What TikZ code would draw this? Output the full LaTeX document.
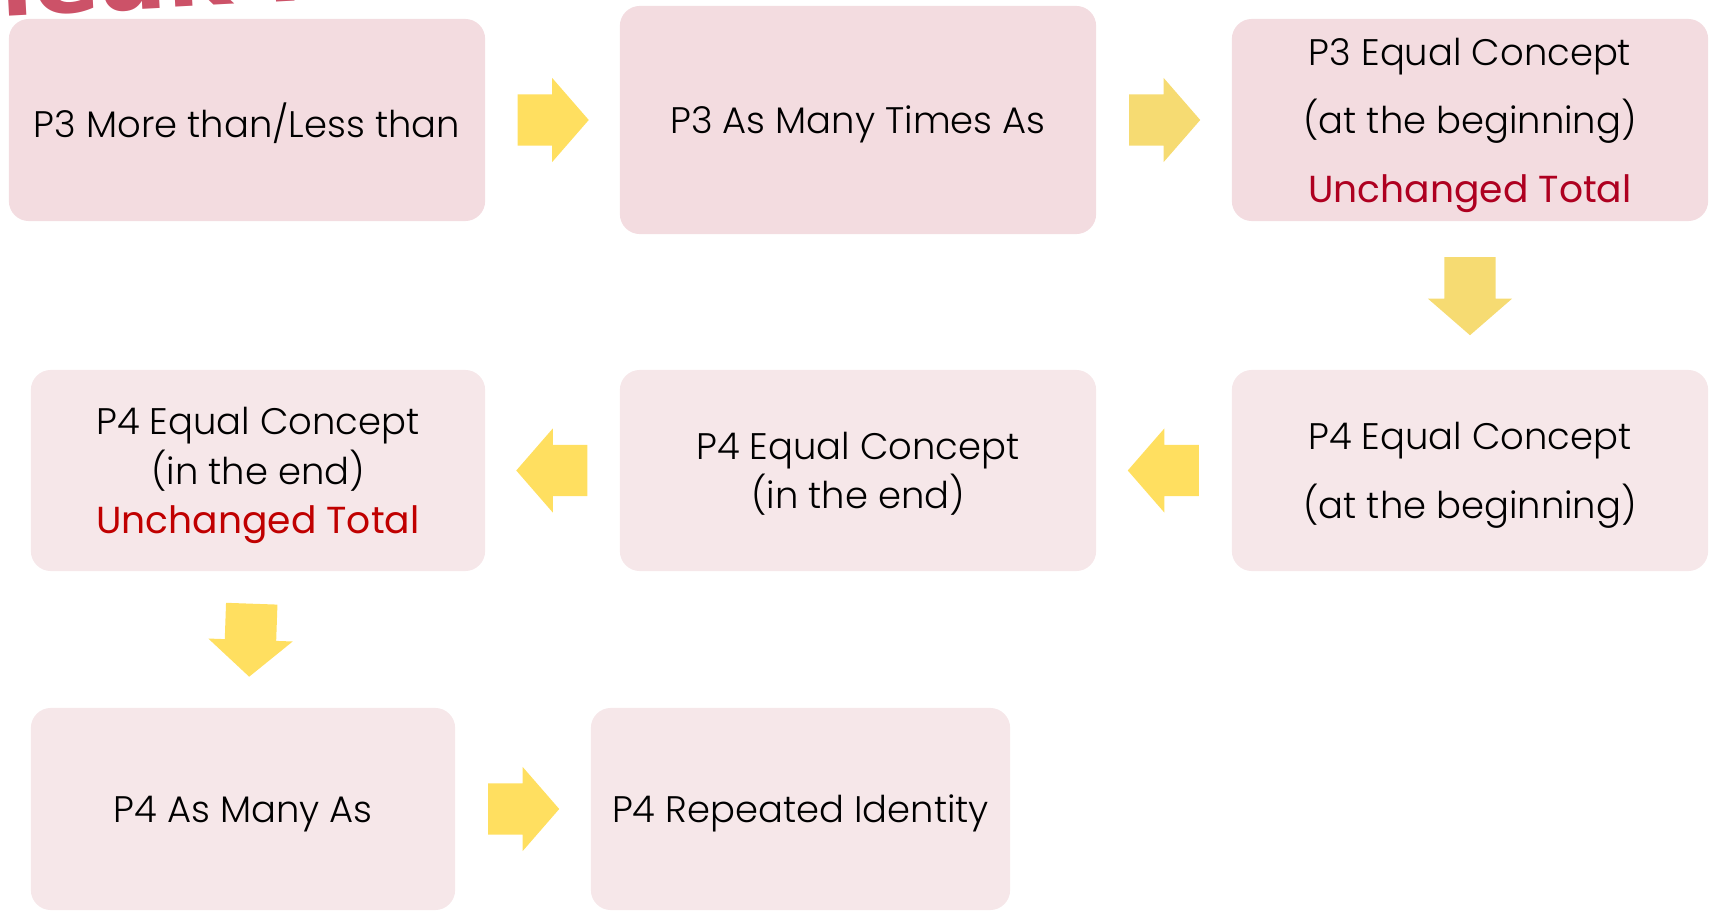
\documentclass[tikz,border=0pt]{standalone}
\usepackage{fontspec}
\setmainfont{Poppins}[UprightFont=* Light,BoldFont=*]
\newfontfamily\wordart{DejaVu Sans Bold}
\usetikzlibrary{shapes.arrows,calc}
\definecolor{boxd}{HTML}{F3DCE0}
\definecolor{boxl}{HTML}{F6E7E9}
\definecolor{pfeilg}{HTML}{FFDF60}
\definecolor{pfeilm}{HTML}{F6DB72}
\definecolor{totrot}{HTML}{AE0020}
\definecolor{totrotl}{HTML}{C00000}
\definecolor{titel}{HTML}{CC5268}
\newcommand{\totline}[2][totrot]{{\fontsize{10.7}{14}\selectfont\bfseries\color{#1}#2}}
\tikzset{
  stufe/.style={rectangle,rounded corners=2mm,inner sep=0pt,align=center,
    font=\fontsize{10.5}{14}\selectfont,text=black,text depth=0pt},
  stufed/.style={stufe,fill=boxd},
  stufel/.style={stufe,fill=boxl},
  pfeil/.style={single arrow,fill=pfeilg,draw=none,inner xsep=0pt,inner ysep=0.25cm,anchor=tail,
    minimum height=0.71cm,single arrow head extend=0.165cm,single arrow tip angle=98},
}
\begin{document}
\begin{tikzpicture}[x=0.01cm,y=-0.01cm]
  \useasboundingbox (0,0) rectangle (1729,918);
  \clip (0,0) rectangle (1729,918);
  % title, cut off at the top
  \node[anchor=base west,rotate=3,font=\wordart\fontsize{28}{28}\selectfont,text=titel,inner sep=0pt] (titel) at (-107,22) {Sneak Peek};
  % P3 row
  \node[stufed,minimum width=4.76cm,minimum height=2.02cm] (more) at (247,120) {P3 More than/Less than};
  \node[stufed,minimum width=4.76cm,minimum height=2.28cm] (times) at (858,120) {P3 As Many Times As};
  \node[stufed,minimum width=4.76cm,minimum height=2.02cm] (eqa3) at (1470,120)
    {P3 Equal Concept\\[5.5pt](at the beginning)\\[5.5pt]\totline{Unchanged Total}};
  % P4 row
  \node[stufel,minimum width=4.76cm,minimum height=2.01cm] (eqa4) at (1470,470.5)
    {P4 Equal Concept\\[5.5pt](at the beginning)};
  \node[stufel,minimum width=4.76cm,minimum height=2.01cm] (eqe4) at (858,470.5)
    {P4 Equal Concept\\(in the end)};
  \node[stufel,minimum width=4.54cm,minimum height=2.01cm] (eqe4t) at (258,470.5)
    {P4 Equal Concept\\(in the end)\\\totline[totrotl]{Unchanged Total}};
  % last row
  \node[stufel,minimum width=4.24cm,minimum height=2.02cm] (many4) at (243,809) {P4 As Many As};
  \node[stufel,minimum width=4.19cm,minimum height=2.02cm] (ident4) at (800.5,809) {P4 Repeated Identity};
  % arrows
  \node[pfeil,xshift=-0.355cm] (p1) at ($(more.east)!0.5!(times.west)$) {};
  \node[pfeil,fill=pfeilm,xshift=-0.355cm] (p2) at ($(times.east)!0.5!(eqa3.west)$) {};
  \node[pfeil,fill=pfeilm,rotate=-90,minimum height=0.78cm,xshift=-0.39cm] (p3) at ($(eqa3.south)!0.5!(eqa4.north)$) {};
  \node[pfeil,shape border rotate=180,xshift=0.355cm] (p4) at ($(eqa4.west)!0.5!(eqe4.east)$) {};
  \node[pfeil,shape border rotate=180,xshift=0.355cm] (p5) at ($(eqe4.west)!0.5!(eqe4t.east)$) {};
  \node[pfeil,rotate=-92,minimum height=0.73cm,xshift=-0.365cm] (p6) at ($(eqe4t.south)!0.5!(many4.north)$) {};
  \node[pfeil,xshift=-0.355cm] (p7) at ($(many4.east)!0.5!(ident4.west)$) {};
\end{tikzpicture}
\end{document}
